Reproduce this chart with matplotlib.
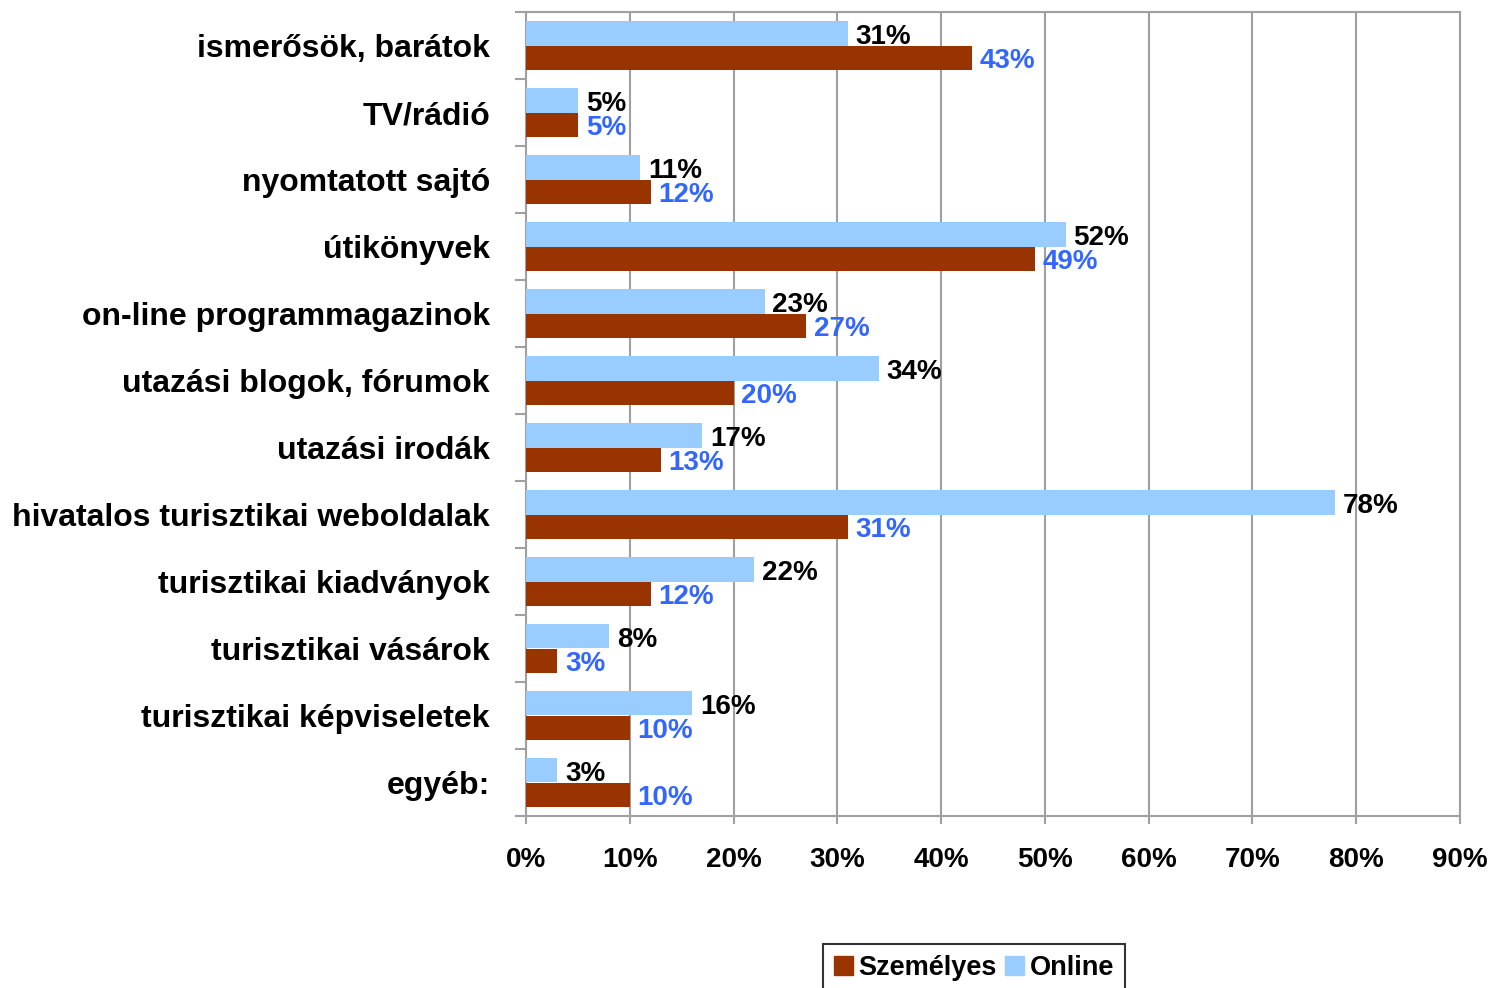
import matplotlib
matplotlib.use("Agg")
import matplotlib.pyplot as plt
import numpy as np
from matplotlib.patches import Patch

plt.rcParams['font.family'] = ['Liberation Sans', 'DejaVu Sans']
plt.rcParams['font.weight'] = 'bold'

categories = ["ismerősök, barátok", "TV/rádió", "nyomtatott sajtó", "útikönyvek",
              "on-line programmagazinok", "utazási blogok, fórumok", "utazási irodák",
              "hivatalos turisztikai weboldalak", "turisztikai kiadványok",
              "turisztikai vásárok", "turisztikai képviseletek", "egyéb:"]
online = [31, 5, 11, 52, 23, 34, 17, 78, 22, 8, 16, 3]
szemelyes = [43, 5, 12, 49, 27, 20, 13, 31, 12, 3, 10, 10]
xticks = [0, 10, 20, 30, 40, 50, 60, 70, 80, 90]

c_online = "#99CCFF"
c_szem = "#993300"
c_lab2 = "#3366FF"
grid_c = "#A0A0A0"

fig = plt.figure(figsize=(14.95, 9.88), dpi=100)
ax = fig.add_axes([526/1495, 1-816/988, (1460-526)/1495, (816-12)/988])

n = len(categories)
y = np.arange(n)
h = 0.37
ax.barh(y - h/2, online, height=h, color=c_online, zorder=3, label="Online")
ax.barh(y + h/2, szemelyes, height=h, color=c_szem, zorder=3, label="Személyes")

for i in range(n):
    ax.text(online[i] + 0.75, y[i] - h/2 + 0.06, f"{online[i]}%", va="center", ha="left",
            fontsize=20, fontweight="bold", color="black", zorder=4)
    ax.text(szemelyes[i] + 0.75, y[i] + h/2 + 0.04, f"{szemelyes[i]}%", va="center", ha="left",
            fontsize=20, fontweight="bold", color=c_lab2, zorder=4)

ax.set_xlim(0, 90)
ax.set_ylim(n - 0.5, -0.5)
ax.set_xticks(xticks)
ax.set_xticklabels([f"{v}%" for v in xticks], fontsize=20, fontweight="bold")
ax.xaxis.grid(True, color=grid_c, linewidth=1.5, zorder=0)
ax.set_axisbelow(True)

ax.set_yticks(y)
ax.set_yticklabels(categories, fontsize=23, fontweight="bold")
ax.tick_params(axis="y", length=0, pad=26)
ax.set_yticks(np.arange(-0.5, n, 1.0), minor=True)
ax.tick_params(axis="y", which="minor", length=8, color=grid_c, width=1.5)
ax.tick_params(axis="x", length=6, color=grid_c, width=1.5, pad=16)

for s in ax.spines.values():
    s.set_color(grid_c)
    s.set_linewidth(1.5)

handles = [Patch(color=c_szem, label="Személyes"), Patch(color=c_online, label="Online")]
leg = fig.legend(handles=handles, loc="upper center", bbox_to_anchor=(974/1495, 1-944/988),
                 ncol=2, fontsize=19.5, frameon=True, fancybox=False, edgecolor="black",
                 handlelength=0.7, handleheight=0.7, handletextpad=0.2, columnspacing=0.3,
                 borderpad=0.4, borderaxespad=0)
leg.get_frame().set_linewidth(1.5)
for t in leg.get_texts():
    t.set_fontweight("bold")

fig.savefig("out.png", dpi=100)
